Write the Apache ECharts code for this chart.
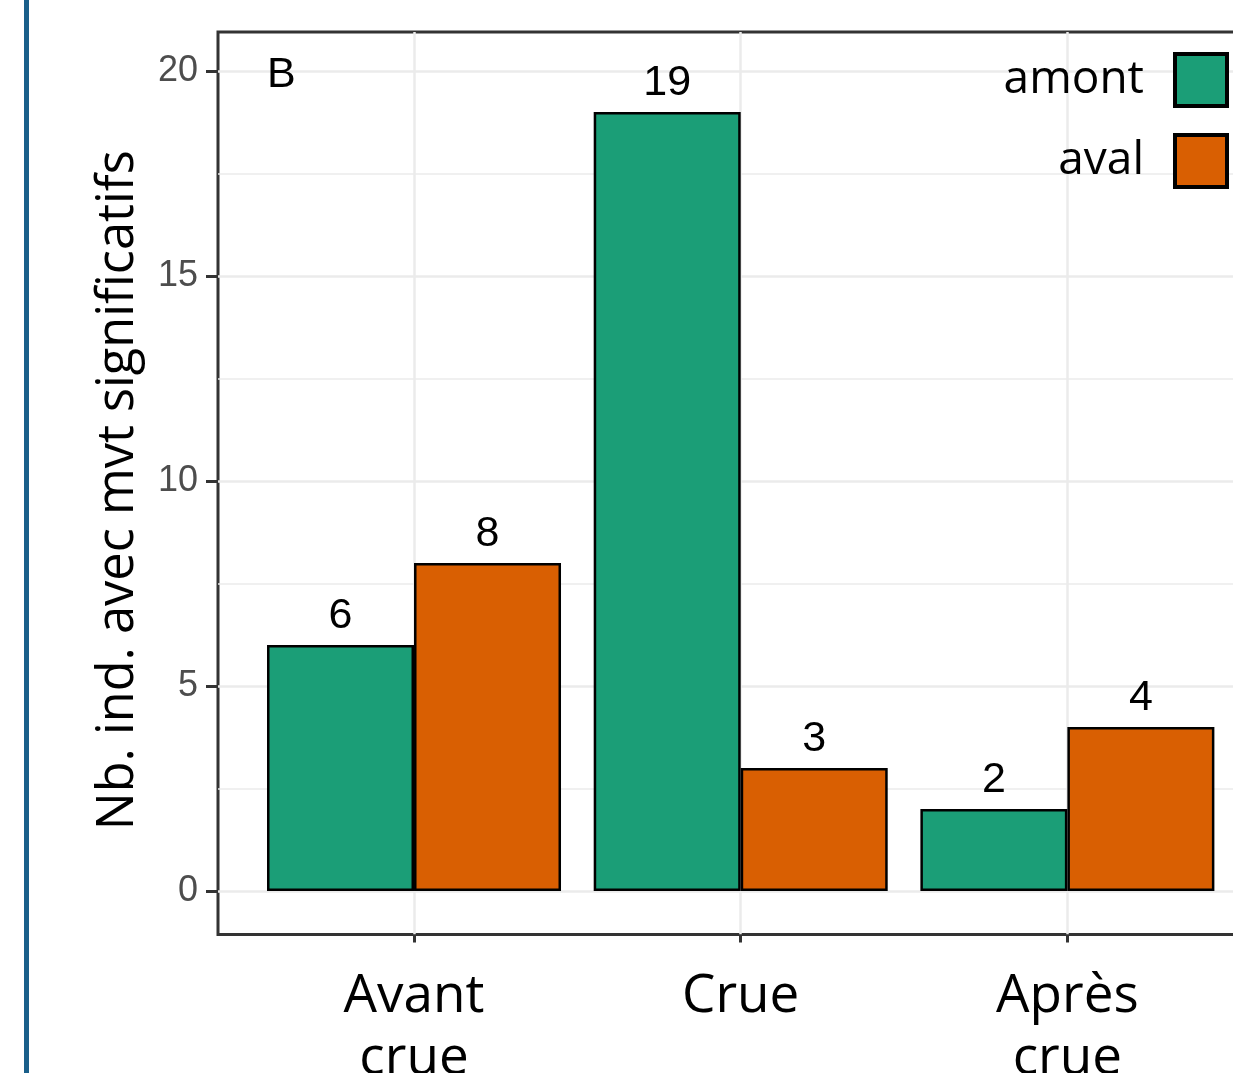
<!DOCTYPE html>
<html>
<head>
<meta charset="utf-8">
<script src="https://cdn.jsdelivr.net/npm/echarts@6/dist/echarts.min.js"></script>
<style>
html,body{margin:0;padding:0;overflow:hidden;background:#fff;}
#chart{width:1300px;height:1073px;}
</style>
</head>
<body>
<div id="chart"></div>
<script>
const categories = ['Avant\ncrue', 'Crue', 'Après\ncrue'];
const catPos = [1, 2, 3];
const amont = [6, 19, 2];
const aval = [8, 3, 4];
const yTicks = [0, 5, 10, 15, 20];
const yMinor = [2.5, 7.5, 12.5, 17.5];
const seriesNames = ['amont', 'aval'];
const colors = ['#1B9E77', '#D95F02'];

const chart = echarts.init(document.getElementById('chart'), null, {renderer: 'canvas'});
const W = 1300, H = 1073;
const numFont = 'Liberation Sans';
const txtFont = 'Open Sans';

const mkSeries = (name, vals, color) => ({
  name: name,
  type: 'bar',
  data: vals.map((v, i) => [catPos[i], v]),
  barWidth: 147,
  barGap: '0%',
  itemStyle: {color: color, borderColor: '#000', borderWidth: 2.5},
  label: {
    show: true, position: 'top', distance: 7,
    fontFamily: numFont, fontSize: 43, color: '#000'
  }
});

chart.setOption({
  animation: false,
  grid: {
    left: 218, right: W - 1263.4, top: 32, bottom: H - 934.5,
    outerBoundsMode: 'none', containLabel: false,
    show: true, borderColor: '#333333', borderWidth: 3, backgroundColor: 'transparent'
  },
  xAxis: {
    type: 'value', min: 0.4, max: 3.6,
    axisLine: {show: false, onZero: false},
    axisTick: {show: true, length: 8, lineStyle: {color: '#333333', width: 3}, customValues: catPos},
    axisLabel: {
      show: true, customValues: catPos, margin: 31,
      formatter: v => categories[Math.round(v) - 1],
      fontFamily: txtFont, fontSize: 53, lineHeight: 62, color: '#000'
    },
    splitLine: {show: true, lineStyle: {color: '#EBEBEB', width: 2.5}}
  },
  yAxis: [{
    type: 'value', min: -1.06, max: 20.95,
    name: 'Nb. ind. avec mvt significatifs',
    nameLocation: 'middle', nameRotate: 90, nameGap: 74,
    nameTextStyle: {fontFamily: txtFont, fontSize: 50.5, color: '#000', padding: [0, 14, 0, 0]},
    axisLine: {show: false, onZero: false},
    axisTick: {show: true, length: 12, lineStyle: {color: '#333333', width: 3}, customValues: yTicks},
    axisLabel: {show: true, customValues: yTicks, margin: 20, fontFamily: numFont, fontSize: 36, color: '#4D4D4D'},
    splitLine: {show: true, lineStyle: {color: '#EBEBEB', width: 2.5}}
  }, {
    type: 'value', min: -1.06, max: 20.95, position: 'left',
    axisLine: {show: false, onZero: false},
    axisTick: {show: false, customValues: yMinor},
    axisLabel: {show: false, customValues: yMinor},
    splitLine: {show: true, lineStyle: {color: '#EBEBEB', width: 1.5}}
  }],
  legend: {
    orient: 'vertical', align: 'right',
    right: W - (1177 + 52), top: 52, padding: 0,
    itemWidth: 52, itemHeight: 52, itemGap: 25,
    icon: 'rect',
    itemStyle: {borderColor: '#000', borderWidth: 4},
    textStyle: {fontFamily: txtFont, fontSize: 46, color: '#000', lineHeight: 52, padding: [0, 26, 0, 0]},
    data: seriesNames
  },
  graphic: [
    {type: 'rect', shape: {x: 24, y: 0, width: 5, height: H}, style: {fill: '#1A5F8A'}, z: 10},
    {type: 'text', x: 267, y: 75, style: {text: 'B', font: '43px "Liberation Sans"', fill: '#000', textVerticalAlign: 'middle'}, z: 10}
  ],
  series: [
    mkSeries(seriesNames[0], amont, colors[0]),
    mkSeries(seriesNames[1], aval, colors[1])
  ]
});
</script>
</body>
</html>
